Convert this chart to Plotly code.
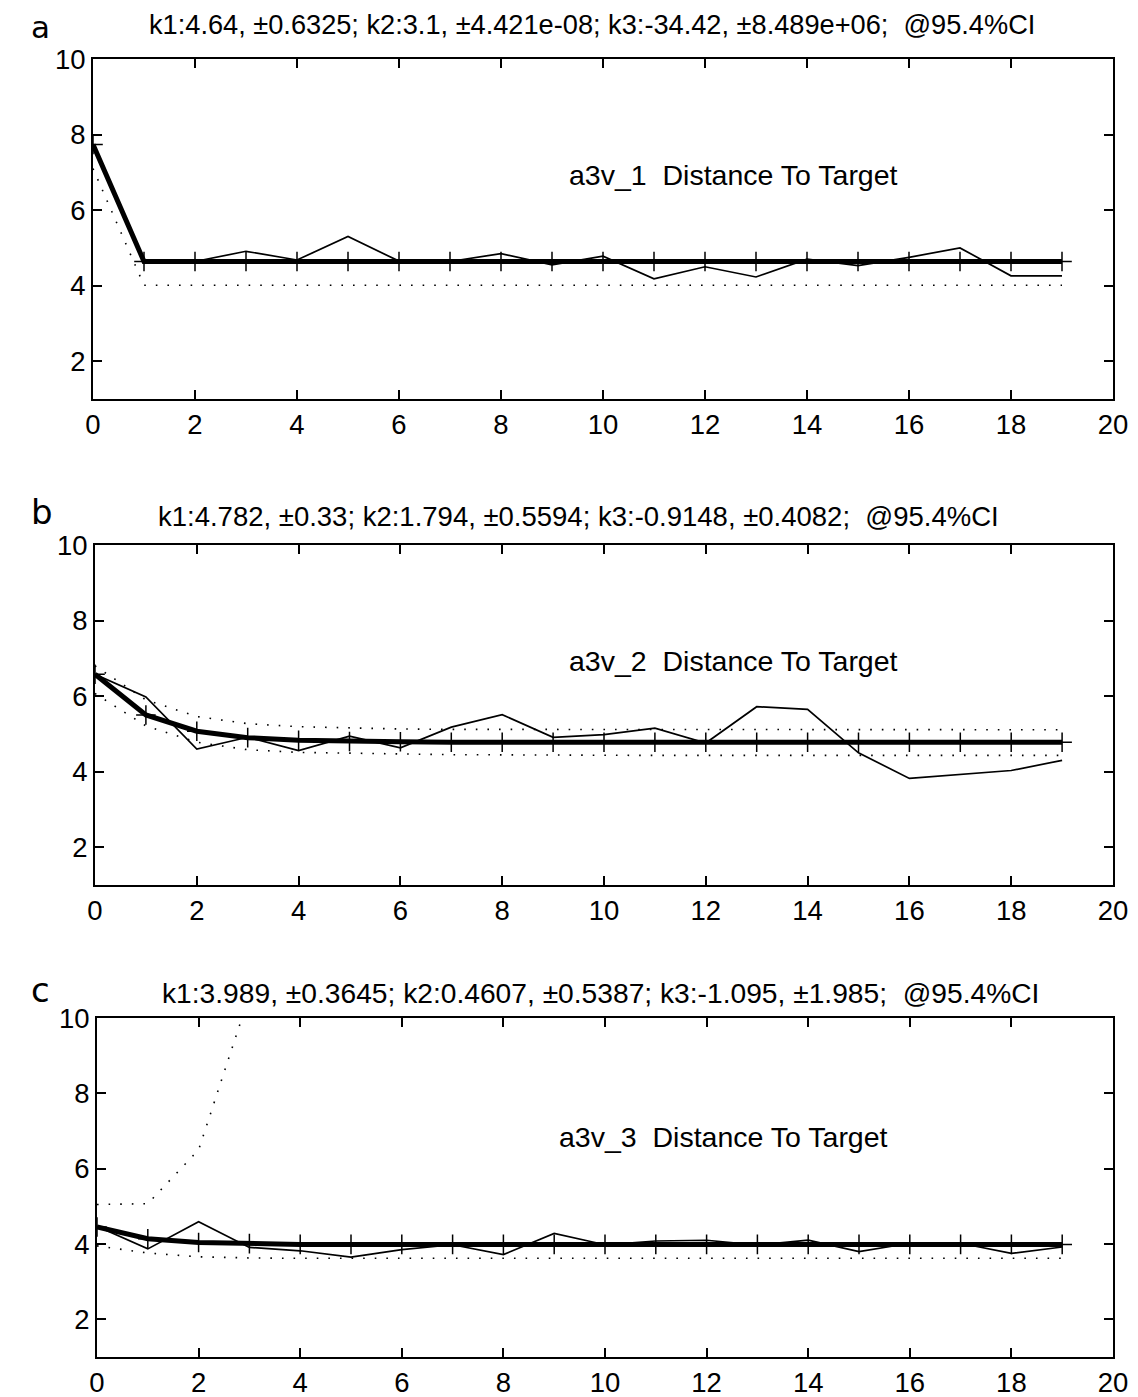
import plotly.graph_objects as go

# ---------------- data ----------------
x_idx = [0, 1, 2, 3, 4, 5, 6, 7, 8, 9, 10, 11, 12, 13, 14, 15, 16, 17, 18, 19]

# panel a
a_data = [7.75, 4.64, 4.64, 4.91, 4.68, 5.30, 4.65, 4.64, 4.85, 4.55,
          4.78, 4.18, 4.50, 4.23, 4.70, 4.53, 4.75, 5.00, 4.26, 4.26]
a_fit = [7.74, 4.64, 4.64, 4.64, 4.64, 4.64, 4.64, 4.64, 4.64, 4.64,
         4.64, 4.64, 4.64, 4.64, 4.64, 4.64, 4.64, 4.64, 4.64, 4.64]
a_lower = [7.10, 4.01, 4.01, 4.01, 4.01, 4.01, 4.01, 4.01, 4.01, 4.01,
           4.01, 4.01, 4.01, 4.01, 4.01, 4.01, 4.01, 4.01, 4.01, 4.01]

# panel b
b_data = [6.58, 5.98, 4.60, 4.91, 4.56, 4.94, 4.63, 5.18, 5.51, 4.91,
          4.98, 5.15, 4.76, 5.72, 5.65, 4.50, 3.82, 3.92, 4.03, 4.30]
b_fit = [6.58, 5.50, 5.07, 4.90, 4.83, 4.80, 4.79, 4.78, 4.78, 4.78,
         4.78, 4.78, 4.78, 4.78, 4.78, 4.78, 4.78, 4.78, 4.78, 4.78]
b_upper = [6.80, 5.90, 5.46, 5.27, 5.19, 5.15, 5.13, 5.12, 5.12, 5.11,
           5.11, 5.11, 5.11, 5.11, 5.11, 5.11, 5.11, 5.11, 5.11, 5.11]
b_lower = [6.07, 5.21, 4.78, 4.58, 4.51, 4.48, 4.47, 4.45, 4.44, 4.43,
           4.43, 4.43, 4.43, 4.43, 4.43, 4.43, 4.43, 4.43, 4.43, 4.43]

# panel c
c_data = [4.47, 3.87, 4.59, 3.91, 3.82, 3.65, 3.85, 3.98, 3.72, 4.28,
          3.98, 4.08, 4.10, 3.97, 4.10, 3.80, 4.02, 4.02, 3.75, 3.92]
c_fit = [4.45, 4.14, 4.04, 4.01, 3.99, 3.99, 3.99, 3.99, 3.99, 3.99,
         3.99, 3.99, 3.99, 3.99, 3.99, 3.99, 3.99, 3.99, 3.99, 3.99]
c_upper_x = [0, 1, 2, 3, 4]
c_upper = [5.05, 5.07, 6.50, 10.60, 17.00]
c_lower = [3.95, 3.76, 3.66, 3.63, 3.62, 3.62, 3.62, 3.62, 3.62, 3.62,
           3.62, 3.62, 3.62, 3.62, 3.62, 3.62, 3.62, 3.62, 3.62, 3.62]

titles = [
    "k1:4.64, ±0.6325; k2:3.1, ±4.421e-08; k3:-34.42, ±8.489e+06;\u00a0 @95.4%CI",
    "k1:4.782, ±0.33; k2:1.794, ±0.5594; k3:-0.9148, ±0.4082;\u00a0 @95.4%CI",
    "k1:3.989, ±0.3645; k2:0.4607, ±0.5387; k3:-1.095, ±1.985;\u00a0 @95.4%CI",
]
inner_labels = ["a3v_1\u00a0 Distance To Target",
                "a3v_2\u00a0 Distance To Target",
                "a3v_3\u00a0 Distance To Target"]
panel_letters = ["a", "b", "c"]

x_ticks = [0, 2, 4, 6, 8, 10, 12, 14, 16, 18, 20]
y_ticks = [2, 4, 6, 8, 10]

# ---------------- figure ----------------
OFF = 8                      # page body margin
W, H = 1138 - OFF, 1397 - OFF
FONT = "Liberation Sans, Arial, Helvetica, sans-serif"

# plot boxes in page pixels: (left, right, top, bottom)
boxes = [(93, 1113, 59, 399), (95, 1113, 545, 885), (97, 1113, 1018, 1357)]
title_pos = [(592, 25), (578, 517), (600, 993)]
letter_pos = [(40, 27), (42, 512), (40, 990)]
letter_sizes = [31, 34, 34]
label_xy = [(9.3, 6.93), (9.27, 6.93), (9.05, 6.85)]
title_sizes = [27.2, 27.5, 28.2]


def px(x):
    return (x - OFF) / W


def py(y):
    return 1 - (y - OFF) / H


fig = go.Figure()

panels = [
    (a_data, a_fit, [(x_idx, a_lower)]),
    (b_data, b_fit, [(x_idx, b_lower), (x_idx, b_upper)]),
    (c_data, c_fit, [(x_idx, c_lower), (c_upper_x, c_upper)]),
]

for i, (data, fit, bounds) in enumerate(panels):
    n = "" if i == 0 else str(i + 1)
    xa, ya = "x" + n, "y" + n
    for bx, by in bounds:
        fig.add_trace(go.Scatter(x=bx, y=by, mode="lines", xaxis=xa, yaxis=ya,
                                 line=dict(color="black", width=1.6, dash="1.6px,10px"),
                                 showlegend=False, hoverinfo="skip"))
    fig.add_trace(go.Scatter(x=x_idx, y=data, mode="lines", xaxis=xa, yaxis=ya,
                             line=dict(color="black", width=1.7),
                             showlegend=False))
    fig.add_trace(go.Scatter(x=x_idx, y=fit, mode="lines+markers", xaxis=xa, yaxis=ya,
                             line=dict(color="black", width=5),
                             marker=dict(symbol="cross-thin", size=14,
                                         line=dict(color="black", width=1.5)),
                             showlegend=False))

    l, r, t, b = boxes[i]
    axis_common = dict(showline=True, linecolor="black", linewidth=2, mirror="ticks",
                       ticks="inside", ticklen=9, tickwidth=1.5, tickcolor="black",
                       showgrid=False, zeroline=False, automargin=False,
                       tickfont=dict(family=FONT, size=27.5, color="black"))
    fig.layout["xaxis" + n] = dict(domain=[px(l), px(r)], range=[0, 20], tickvals=x_ticks,
                                   anchor=ya, **axis_common)
    fig.layout["yaxis" + n] = dict(domain=[py(b), py(t)], range=[1, 10], tickvals=y_ticks,
                                   anchor=xa, **axis_common)

    tx, ty = title_pos[i]
    fig.add_annotation(text=titles[i], x=px(tx), y=py(ty), xref="paper", yref="paper",
                       xanchor="center", yanchor="middle", showarrow=False,
                       font=dict(family=FONT, size=title_sizes[i], color="black"))
    lx, ly = letter_pos[i]
    fig.add_annotation(text=panel_letters[i], x=px(lx), y=py(ly), xref="paper", yref="paper",
                       xanchor="center", yanchor="middle", showarrow=False,
                       font=dict(family="DejaVu Sans, sans-serif", size=letter_sizes[i],
                                 color="black"))
    ax_, ay_ = label_xy[i]
    fig.add_annotation(text=inner_labels[i], x=ax_, y=ay_, xref=xa, yref=ya,
                       xanchor="left", yanchor="middle", showarrow=False,
                       font=dict(family=FONT, size=28.5, color="black"))

fig.update_layout(width=W, height=H, margin=dict(l=0, r=0, t=0, b=0, pad=0),
                  paper_bgcolor="white", plot_bgcolor="white", showlegend=False)

fig.write_html("out.html")
